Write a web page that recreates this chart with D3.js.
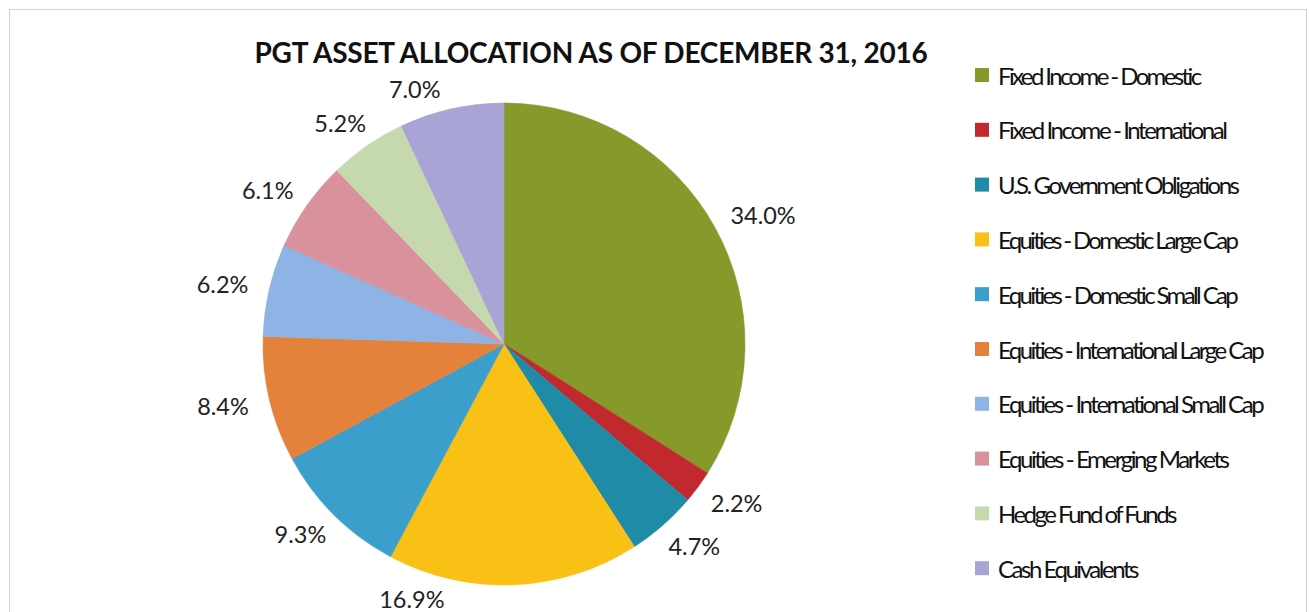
<!DOCTYPE html>
<html>
<head>
<meta charset="utf-8">
<script src="https://cdn.jsdelivr.net/npm/d3@7"></script>
<style>
  html, body { margin: 0; padding: 0; background: #fff; }
  svg { display: block; }
</style>
</head>
<body>
<svg id="chart" width="1309" height="612"></svg>
<script>
// PGT asset allocation, December 31, 2016 (percent of portfolio)
const categories = [
  "Fixed Income - Domestic",
  "Fixed Income - International",
  "U.S. Government Obligations",
  "Equities - Domestic Large Cap",
  "Equities - Domestic Small Cap",
  "Equities - International Large Cap",
  "Equities - International Small Cap",
  "Equities - Emerging Markets",
  "Hedge Fund of Funds",
  "Cash Equivalents"
];
const allocation = [34.0, 2.2, 4.7, 16.9, 9.3, 8.4, 6.2, 6.1, 5.2, 7.0];
const title = "PGT ASSET ALLOCATION AS OF DECEMBER 31, 2016";

// slice colours, in category order
const palette = ["#869a2c", "#c1292e", "#1f8ba7", "#f9c116", "#3b9ecb",
                 "#e4823b", "#8db4e4", "#d9929d", "#c6d9ae", "#a9a4d6"];

// labels that would run off the plot area are slid round the rim (degrees)
const labelShift = { 3: 20.5, 9: -5.4 };

const svg = d3.select("#chart");
const cx = 504, cy = 344, radius = 241;
const labelGap = 22;
const labelFont = "Lato, 'Open Sans', sans-serif";

// squeeze a text to a target width by tightening its letter spacing
function fitWidth(sel, target) {
  sel.each(function (d, i) {
    const w = typeof target === "function" ? target(d, i) : target;
    const natural = this.getComputedTextLength();
    const n = this.textContent.length;
    d3.select(this).attr("letter-spacing", ((w - natural) / n).toFixed(3));
  });
}

// faint frame of the chart area
svg.append("rect")
  .attr("x", 9.5).attr("y", 9.5)
  .attr("width", 1297).attr("height", 640)
  .attr("fill", "none")
  .attr("stroke", "#d2d2d2")
  .attr("stroke-width", 1);

// title
svg.append("text")
  .attr("x", 591).attr("y", 63)
  .attr("text-anchor", "middle")
  .attr("font-family", "Lato, 'Open Sans', sans-serif")
  .attr("font-weight", 700)
  .attr("font-size", 28)
  .attr("fill", "#111")
  .text(title)
  .call(fitWidth, 673);

const color = d3.scaleOrdinal().domain(categories).range(palette);
const data = categories.map((c, i) => ({ name: c, value: allocation[i], index: i }));

const pie = d3.pie().value(d => d.value).sort(null);
const arcs = pie(data);
const arc = d3.arc().innerRadius(0).outerRadius(radius);

const g = svg.append("g").attr("transform", `translate(${cx},${cy})`);

g.selectAll("path.slice")
  .data(arcs)
  .join("path")
  .attr("class", "slice")
  .attr("d", arc)
  .attr("fill", d => color(d.data.name))
  .attr("stroke", d => color(d.data.name))
  .attr("stroke-width", 0.6);

// outside-end percentage labels: nearest edge of the label box sits labelGap off the rim
const labels = g.selectAll("text.pct")
  .data(arcs)
  .join("text")
  .attr("class", "pct")
  .attr("font-family", labelFont)
  .attr("font-size", 23.5)
  .attr("fill", "#222")
  .attr("text-anchor", "middle")
  .attr("dominant-baseline", "central")
  .text(d => d.data.value.toFixed(1) + "%");

labels.each(function (d) {
  const box = this.getBBox();
  const shift = (labelShift[d.data.index] || 0) * Math.PI / 180;
  const a = (d.startAngle + d.endAngle) / 2 + shift;
  const sx = Math.sin(a), sy = -Math.cos(a);
  const x = sx * (radius + labelGap) + sx * box.width / 2;
  const y = sy * (radius + labelGap) + sy * 5;
  d3.select(this).attr("x", x).attr("y", y);
});

// legend
const legendX = 975, legendY = 75, legendStep = 54.8;
const legendWidths = [202, 228, 240, 239, 239, 265, 265, 230, 177, 139];
const legend = svg.append("g");
const items = legend.selectAll("g.item")
  .data(categories)
  .join("g")
  .attr("class", "item")
  .attr("transform", (d, i) => `translate(${legendX},${legendY + i * legendStep})`);

items.append("rect")
  .attr("x", 0).attr("y", -7)
  .attr("width", 14).attr("height", 14)
  .attr("fill", d => color(d));

items.append("text")
  .attr("x", 23).attr("y", 0)
  .attr("dominant-baseline", "central")
  .attr("font-family", labelFont)
  .attr("font-size", 24)
  .attr("fill", "#111")
  .text(d => d)
  .call(fitWidth, (d, i) => legendWidths[i]);
</script>
</body>
</html>
